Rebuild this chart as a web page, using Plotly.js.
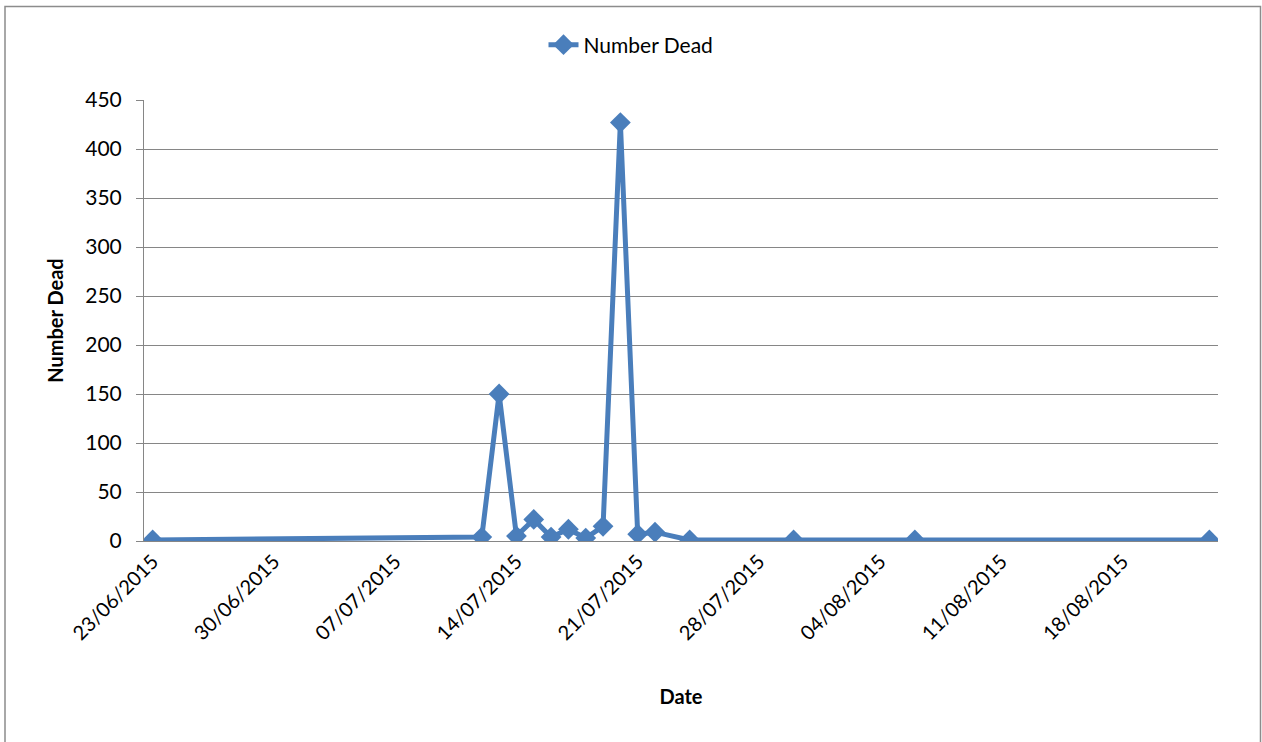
<!DOCTYPE html>
<html>
<head>
<meta charset="utf-8">
<script src="https://cdn.plot.ly/plotly-3.0.1.min.js"></script>
<style>html,body{margin:0;padding:0;background:#fff;}#chart{width:1262px;height:742px;}</style>
</head>
<body>
<div id="chart"></div>
<script>
const dates = ['2015-06-23','2015-07-12','2015-07-13','2015-07-14','2015-07-15','2015-07-16','2015-07-17','2015-07-18','2015-07-19','2015-07-20','2015-07-21','2015-07-22','2015-07-24','2015-07-30','2015-08-06','2015-08-23'];
const numberDead = [1,4,150,5,22,4,12,3,15,427,7,9,1,1,1,1];
const seriesName = 'Number Dead';
const xTitle = 'Date';
const yTitle = 'Number Dead';

const FONT = 'Lato, "Open Sans", sans-serif';
const grey = '#868686';
const blue = '#4A7EBB';

const trace = {
  x: dates, y: numberDead, name: seriesName, type: 'scatter', mode: 'lines+markers',
  line: {color: blue, width: 5},
  marker: {symbol: 'diamond', size: 16, color: blue}
};

const layout = {
  width: 1262, height: 742,
  margin: {l: 144, r: 44, t: 100, b: 201, autoexpand: false},
  paper_bgcolor: '#fff', plot_bgcolor: '#fff',
  font: {family: FONT, size: 20, color: '#000'},
  showlegend: true,
  legend: {orientation: 'h', xref: 'container', yref: 'container', x: 0.5, xanchor: 'center', y: 1 - 45/742, yanchor: 'middle',
           bgcolor: 'rgba(0,0,0,0)', font: {size: 21}},
  xaxis: {
    type: 'date',
    range: ['2015-06-22 12:00', '2015-08-23 12:00'],
    tick0: '2015-06-23', dtick: 7*86400000,
    tickformat: '%d/%m/%Y', tickangle: -45,
    showgrid: false, zeroline: false,
    showline: true, linecolor: grey, linewidth: 1,
    ticks: '', tickfont: {size: 20},
    title: {text: xTitle, font: {size: 20, weight: 'bold'}, standoff: 46}
  },
  yaxis: {
    range: [0, 450], dtick: 50, tick0: 0,
    showgrid: true, gridcolor: grey, gridwidth: 1,
    zeroline: false, showline: true, linecolor: grey, linewidth: 1,
    ticks: 'outside', ticklen: 7, tickcolor: grey,
    ticklabelstandoff: 10,
    tickfont: {size: 21},
    title: {text: yTitle, font: {size: 20, weight: 'bold'}, standoff: 16}
  },
  shapes: [{
    type: 'rect', xref: 'paper', yref: 'paper',
    x0: (5-144)/1074, x1: (1260.5-144)/1074, y0: -0.6, y1: (541-6.5)/441,
    line: {color: '#8c8c8c', width: 1.5}, fillcolor: 'rgba(0,0,0,0)', layer: 'below'
  }]
};

Plotly.newPlot('chart', [trace], layout, {displayModeBar: false, staticPlot: true});
</script>
</body>
</html>
